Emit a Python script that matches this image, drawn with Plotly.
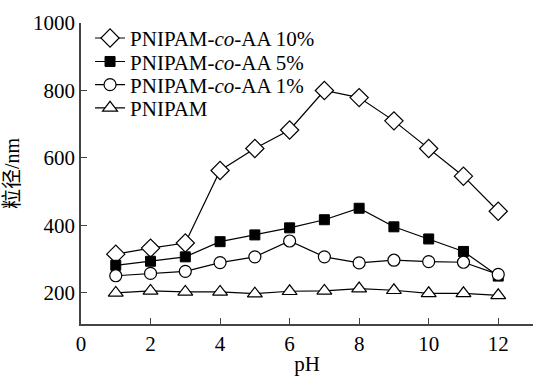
import plotly.graph_objects as go

ph = [1, 2, 3, 4, 5, 6, 7, 8, 9, 10, 11, 12]
aa10 = [315, 333, 348, 563, 628, 683, 800, 779, 710, 628, 546, 442]
aa5 = [282, 294, 307, 352, 372, 393, 417, 451, 396, 360, 323, 250]
aa1 = [251, 258, 264, 290, 307, 354, 307, 289, 297, 293, 291, 255]
pnipam = [200, 206, 203, 203, 198, 205, 206, 213, 208, 199, 199, 193]

names = ["PNIPAM-<i>co</i>-AA 10%", "PNIPAM-<i>co</i>-AA 5%",
         "PNIPAM-<i>co</i>-AA 1%", "PNIPAM"]
x_ticks = [0, 2, 4, 6, 8, 10, 12]
y_ticks = [200, 400, 600, 800, 1000]

FONT = "Liberation Serif"
FONT_CJK = "Liberation Serif, Noto Sans CJK SC"

series = [
    (aa10, names[0], dict(symbol="diamond", size=14, color="white", line=dict(color="black", width=1.2))),
    (aa5, names[1], dict(symbol="square", size=10, color="black", line=dict(color="black", width=1))),
    (aa1, names[2], dict(symbol="circle", size=12, color="white", line=dict(color="black", width=1.2))),
    (pnipam, names[3], dict(symbol="triangle-up", size=13, color="white", line=dict(color="black", width=1.2))),
]
legend_ids = ["legend", "legend2", "legend3", "legend4"]
legend_rows = [0.949, 0.871, 0.794, 0.717]

fig = go.Figure()
for (ys, nm, mk), lid in zip(series, legend_ids):
    fig.add_trace(go.Scatter(x=ph, y=ys, name=nm, mode="lines+markers", legend=lid,
                             line=dict(color="black", width=1.2), marker=mk))

legend_layout = {}
for lid, yr in zip(legend_ids, legend_rows):
    legend_layout[lid] = dict(x=0.02, y=yr, xanchor="left", yanchor="middle",
                              bgcolor="rgba(0,0,0,0)", font=dict(size=21, family=FONT),
                              itemwidth=30, borderwidth=0)

fig.update_layout(
    width=534, height=376,
    margin=dict(l=81, r=1, t=23, b=52),
    paper_bgcolor="white", plot_bgcolor="white",
    font=dict(family=FONT, size=21, color="black"),
    showlegend=True,
    xaxis=dict(range=[0, 13], tickvals=x_ticks, ticks="inside", ticklen=6,
               tickcolor="#444", showline=True, linecolor="#444", linewidth=1.5,
               showgrid=False, zeroline=False, tickfont=dict(size=21, family=FONT),
               title=dict(text="pH", font=dict(size=21, family=FONT), standoff=2)),
    yaxis=dict(range=[108, 1000], tickvals=y_ticks, ticks="inside", ticklen=6,
               tickcolor="#444", showline=True, linecolor="#444", linewidth=1.5,
               showgrid=False, zeroline=False, tickfont=dict(size=21, family=FONT),
               title=dict(text="粒径/nm", font=dict(size=20, family=FONT_CJK), standoff=8)),
    **legend_layout,
)

fig.write_html("out.html")
